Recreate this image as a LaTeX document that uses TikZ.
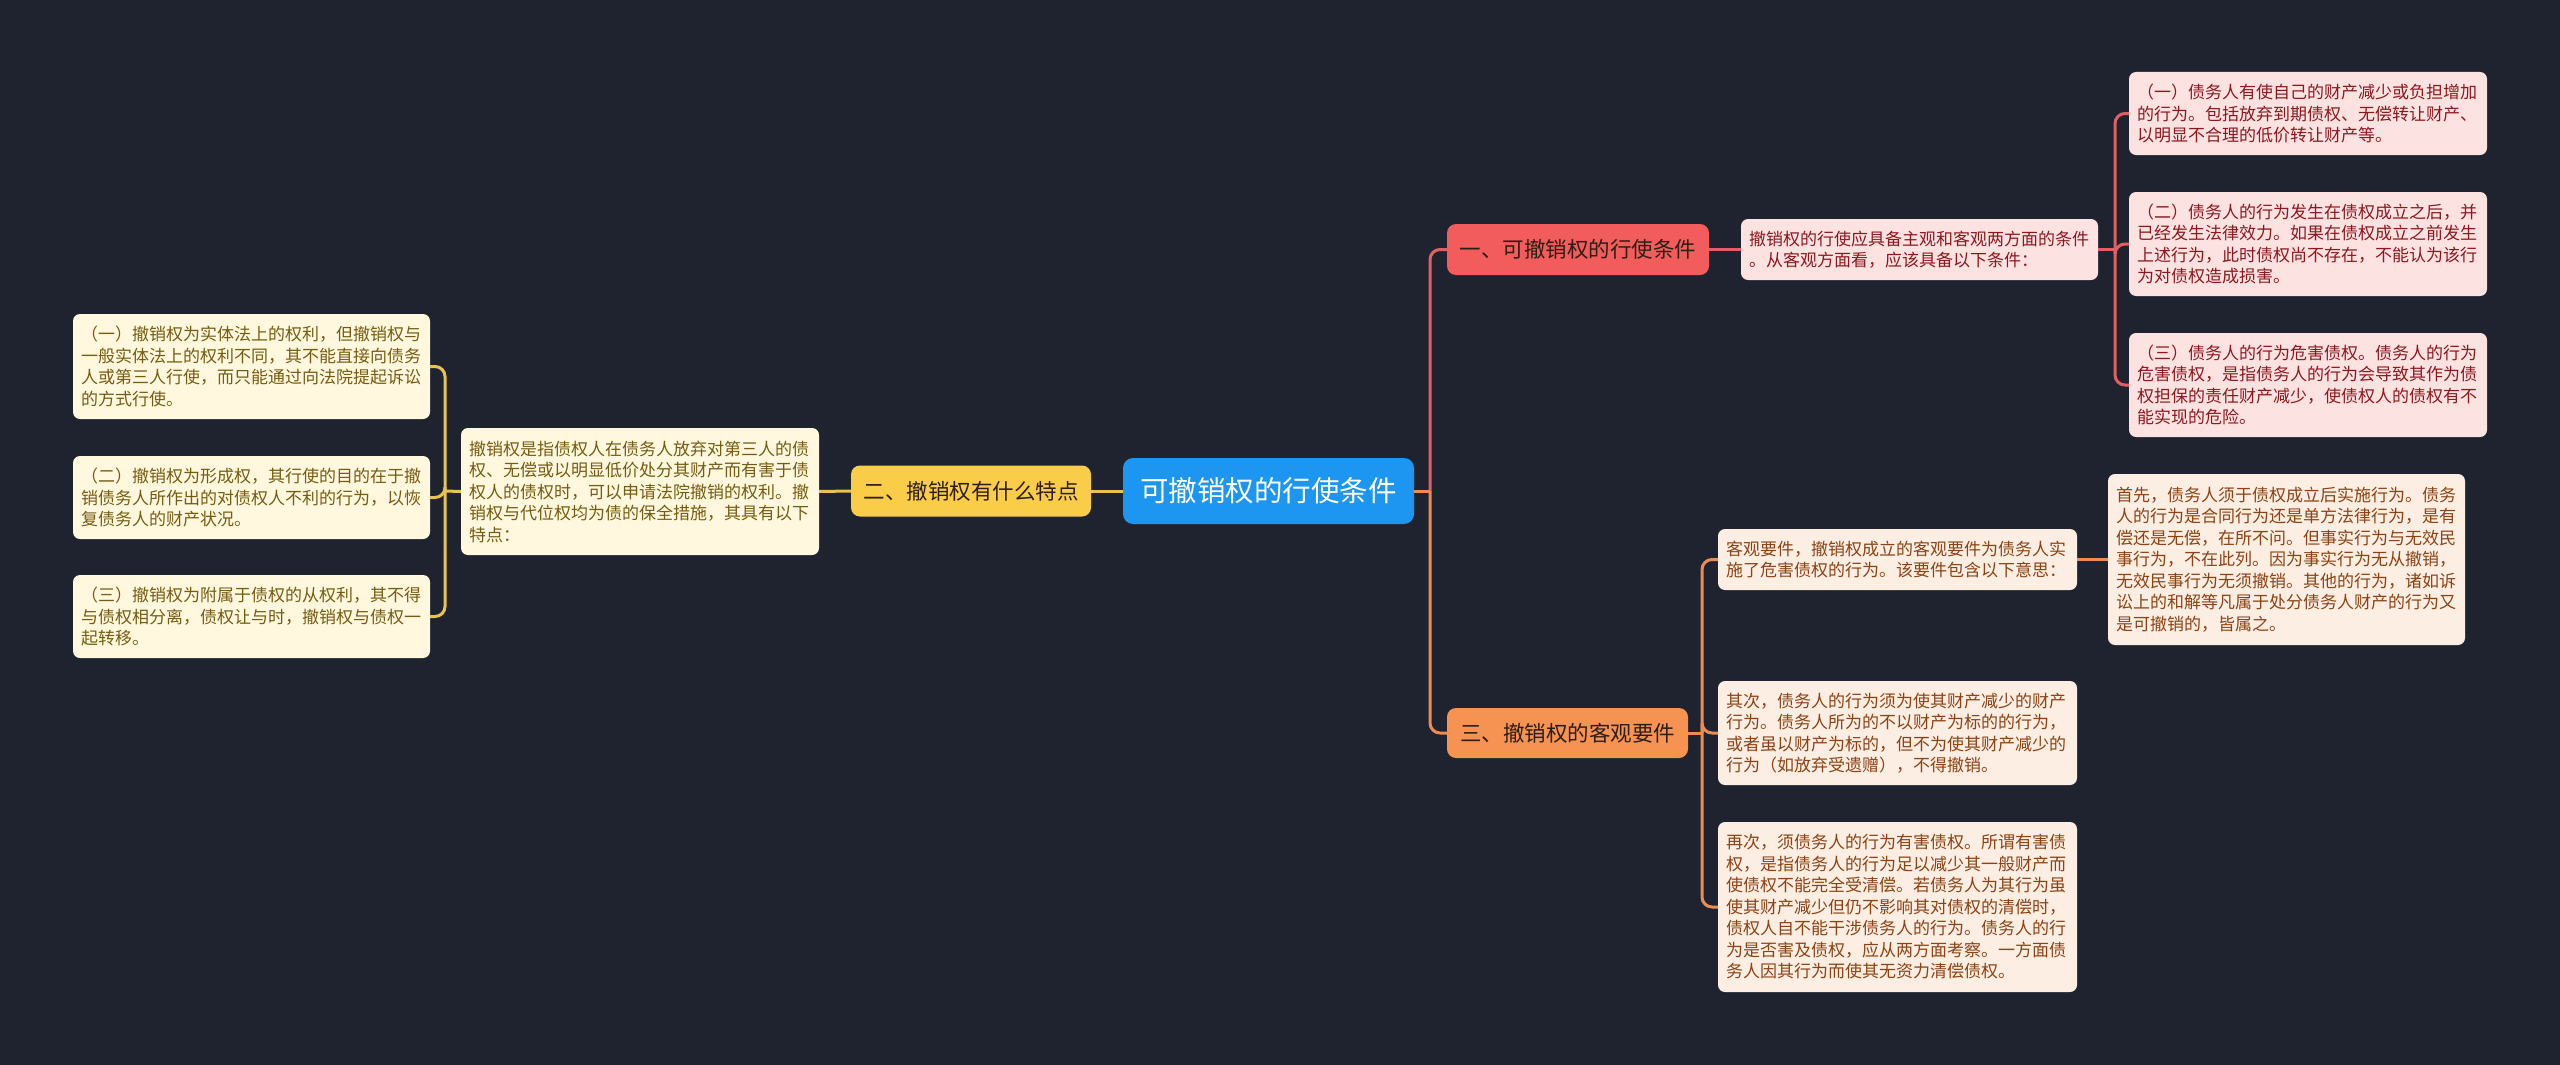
\documentclass[tikz,border=0pt]{standalone}
\usepackage{fontspec}
\newfontfamily\cjk{Noto Sans CJK SC}
\definecolor{bgc}{RGB}{31,35,48}
\definecolor{cblue}{RGB}{28,150,240}
\definecolor{yfill}{RGB}{250,205,72}
\definecolor{yleaf}{RGB}{255,248,222}
\definecolor{ytext}{RGB}{118,92,18}
\definecolor{yline}{RGB}{232,196,78}
\definecolor{rfill}{RGB}{242,92,92}
\definecolor{rleaf}{RGB}{253,226,226}
\definecolor{rtext}{RGB}{140,24,30}
\definecolor{rline}{RGB}{226,96,100}
\definecolor{ofill}{RGB}{246,146,82}
\definecolor{oleaf}{RGB}{253,238,227}
\definecolor{otext}{RGB}{140,66,20}
\definecolor{oline}{RGB}{236,140,82}
\definecolor{btext}{RGB}{45,30,20}
\tikzset{
  leafbox/.style={rounded corners=7pt, inner xsep=8pt, inner ysep=0pt, text width=341pt, align=left,
    font=\cjk\fontsize{17}{21.5}\selectfont},
  yleafbox/.style={leafbox, fill=yleaf, text=ytext},
  rleafbox/.style={leafbox, fill=rleaf, text=rtext},
  oleafbox/.style={leafbox, fill=oleaf, text=otext},
  branchbox/.style={rounded corners=9pt, inner sep=0pt, text=btext, font=\cjk\fontsize{21.5}{26}\selectfont},
  conn/.style={line width=3pt, rounded corners=10pt},
}
\begin{document}
\begin{tikzpicture}[x=1pt,y=-1pt]
\fill[bgc] (0,0) rectangle (2560,1065);
\useasboundingbox (0,0) rectangle (2560,1065);

% center
\node[rounded corners=10pt, fill=cblue, text=white, inner sep=0pt, minimum width=291pt, minimum height=66pt,
  font=\cjk\fontsize{28.5}{34}\selectfont] (root) at (1268.5,491) {可撤销权的行使条件};

% branches
\node[branchbox, fill=yfill, minimum width=240pt, minimum height=51pt] (b2) at (971,491) {二、撤销权有什么特点};
\node[branchbox, fill=rfill, minimum width=262pt, minimum height=51pt] (b1) at (1578,249.5) {一、可撤销权的行使条件};
\node[branchbox, fill=ofill, minimum width=241pt, minimum height=50pt] (b3) at (1567.5,733) {三、撤销权的客观要件};

% left side
\node[yleafbox, minimum height=127pt, text width=342pt] (lmid) at (640,491.5) {撤销权是指债权人在债务人放弃对第三人的债\\权、无偿或以明显低价处分其财产而有害于债\\权人的债权时，可以申请法院撤销的权利。撤\\销权与代位权均为债的保全措施，其具有以下\\特点：};
\node[yleafbox, minimum height=105pt] (l1) at (251.5,366.5) {（一）撤销权为实体法上的权利，但撤销权与\\一般实体法上的权利不同，其不能直接向债务\\人或第三人行使，而只能通过向法院提起诉讼\\的方式行使。};
\node[yleafbox, minimum height=83pt] (l2) at (251.5,497.5) {（二）撤销权为形成权，其行使的目的在于撤\\销债务人所作出的对债权人不利的行为，以恢\\复债务人的财产状况。};
\node[yleafbox, minimum height=83pt] (l3) at (251.5,616.5) {（三）撤销权为附属于债权的从权利，其不得\\与债权相分离，债权让与时，撤销权与债权一\\起转移。};

% right top
\node[rleafbox, minimum height=61pt] (rm) at (1919.5,249.5) {撤销权的行使应具备主观和客观两方面的条件\\。从客观方面看，应该具备以下条件：};
\node[rleafbox, minimum height=83pt, text width=342pt] (r1) at (2308,113.5) {（一）债务人有使自己的财产减少或负担增加\\的行为。包括放弃到期债权、无偿转让财产、\\以明显不合理的低价转让财产等。};
\node[rleafbox, minimum height=104pt, text width=342pt] (r2) at (2308,244) {（二）债务人的行为发生在债权成立之后，并\\已经发生法律效力。如果在债权成立之前发生\\上述行为，此时债权尚不存在，不能认为该行\\为对债权造成损害。};
\node[rleafbox, minimum height=104pt, text width=342pt] (r3) at (2308,385) {（三）债务人的行为危害债权。债务人的行为\\危害债权，是指债务人的行为会导致其作为债\\权担保的责任财产减少，使债权人的债权有不\\能实现的危险。};

% right bottom
\node[oleafbox, minimum height=61pt, text width=343pt] (oa) at (1897.5,559.5) {客观要件，撤销权成立的客观要件为债务人实\\施了危害债权的行为。该要件包含以下意思：};
\node[oleafbox, minimum height=104pt, text width=343pt] (ob) at (1897.5,733) {其次，债务人的行为须为使其财产减少的财产\\行为。债务人所为的不以财产为标的的行为，\\或者虽以财产为标的，但不为使其财产减少的\\行为（如放弃受遗赠），不得撤销。};
\node[oleafbox, minimum height=170pt, text width=343pt] (oc) at (1897.5,907) {再次，须债务人的行为有害债权。所谓有害债\\权，是指债务人的行为足以减少其一般财产而\\使债权不能完全受清偿。若债务人为其行为虽\\使其财产减少但仍不影响其对债权的清偿时，\\债权人自不能干涉债务人的行为。债务人的行\\为是否害及债权，应从两方面考察。一方面债\\务人因其行为而使其无资力清偿债权。};
\node[oleafbox, minimum height=171pt, text width=341pt] (od) at (2286.5,559.5) {首先，债务人须于债权成立后实施行为。债务\\人的行为是合同行为还是单方法律行为，是有\\偿还是无偿，在所不问。但事实行为与无效民\\事行为，不在此列。因为事实行为无从撤销，\\无效民事行为无须撤销。其他的行为，诸如诉\\讼上的和解等凡属于处分债务人财产的行为又\\是可撤销的，皆属之。};

% junction coordinates
\coordinate (jl) at (445,491);
\coordinate (jc) at (1430,491);
\coordinate (jr) at (2115,249.5);
\coordinate (jo) at (1702,733);

% connectors left
\draw[conn, yline] (root.west) -- (b2.east);
\draw[conn, yline] (b2.west) -- (lmid.east);
\draw[conn, yline] (lmid.west) -- (jl);
\draw[conn, yline] (jl) |- (l1.east);
\draw[conn, yline] (jl) |- (l2.east);
\draw[conn, yline] (jl) |- (l3.east);

% connectors right
\draw[conn, rline] (jc) |- (b1.west);
\draw[conn, oline] (jc) |- (b3.west);
\draw[conn, oline] (root.east) -- (jc);
\draw[conn, rline] (b1.east) -- (rm.west);
\draw[conn, rline] (rm.east) -- (jr);
\draw[conn, rline] (jr) |- (r1.west);
\draw[conn, rline] (jr) |- (r2.west);
\draw[conn, rline] (jr) |- (r3.west);
\draw[conn, oline] (b3.east) -- (jo);
\draw[conn, oline] (jo) |- (oa.west);
\draw[conn, oline] (jo) |- (ob.west);
\draw[conn, oline] (jo) |- (oc.west);
\draw[conn, oline] (oa.east) -- (od.west);
\end{tikzpicture}
\end{document}
